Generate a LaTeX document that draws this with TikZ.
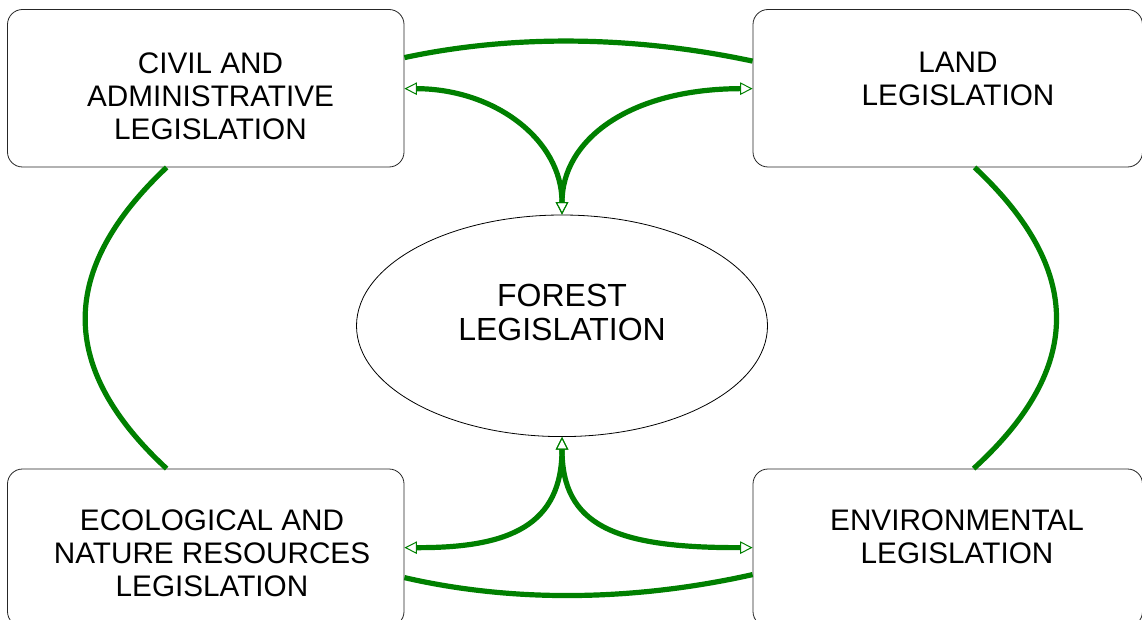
\documentclass[tikz,border=0pt]{standalone}
\usepackage{fontspec}
\setmainfont{Liberation Sans}
\usetikzlibrary{arrows.meta,shapes.geometric,calc}
\definecolor{lgreen}{RGB}{0,128,0}
\begin{document}
\begin{tikzpicture}[x=1pt,y=-1pt,
  box/.style={draw=black!85,line width=0.8pt,rounded corners=15pt,inner sep=0pt,
    minimum height=157.5pt},
  lbl/.style={align=center,inner sep=0pt,font=\fontsize{29.7}{33}\selectfont},
  conn/.style={draw=lgreen,line width=5.2pt},
  arr/.style={conn,{Triangle[open,length=12.5pt,width=12.5pt,line width=1pt]}-{Triangle[open,length=12.5pt,width=12.5pt,line width=1pt]}}
]
\useasboundingbox (0,0) rectangle (1142,620);
\fill[white] (0,0) rectangle (1142,620);

% boxes
\node[box,minimum width=396.5pt] (civil) at (205.75,88.25) {};
\node[box,minimum width=389.5pt] (land) at (947.75,88.25) {};
\node[box,minimum width=396.5pt] (eco) at (205.75,547.75) {};
\node[box,minimum width=389.5pt] (env) at (947.75,547.75) {};
\node[draw=black,line width=0.8pt,ellipse,inner sep=0pt,minimum width=411pt,minimum height=221.6pt] (forest) at (562,325.8) {};

% labels
\node[lbl] (civiltxt) at (210.5,96.6) {CIVIL AND\\ADMINISTRATIVE\\LEGISLATION};
\node[lbl] (landtxt) at (958,79) {LAND\\LEGISLATION};
\node[lbl] (ecotxt) at (212,553.6) {ECOLOGICAL AND\\NATURE RESOURCES\\LEGISLATION};
\node[lbl] (envtxt) at (957,537.2) {ENVIRONMENTAL\\LEGISLATION};
\node[lbl,font=\fontsize{32}{34.4}\selectfont] (foresttxt) at (562,312.3) {FOREST\\LEGISLATION};

% outer arcs
\draw[conn] ($(civil.north east)+(0,48.5)$) .. controls (510,35) and (630,35) .. ($(land.north west)+(0,52)$);
\draw[conn] ($(eco.north east)+(0,109)$) .. controls (510,602) and (630,602) .. ($(env.north west)+(0,106)$);
\draw[conn] ($(civil.south west)+(159.5,0)$) .. controls (58,270) and (58,368) .. ($(eco.north west)+(159.5,0)$);
\draw[conn] ($(land.south west)+(222,0)$) .. controls (1084,270) and (1084,368) .. ($(env.north west)+(221,0)$);

% arrows to forest
\draw[arr] ($(civil.north east)+(0,79.5)$) .. controls (495,89) and (562,140) .. (forest.north);
\draw[arr] ($(land.north west)+(0,79.5)$) .. controls (629,89) and (562,140) .. (forest.north);
\draw[arr] ($(eco.north east)+(0,79)$) .. controls (510,548) and (562,525) .. (forest.south);
\draw[arr] ($(env.north west)+(0,79)$) .. controls (614,548) and (562,525) .. (forest.south);
\end{tikzpicture}
\end{document}
